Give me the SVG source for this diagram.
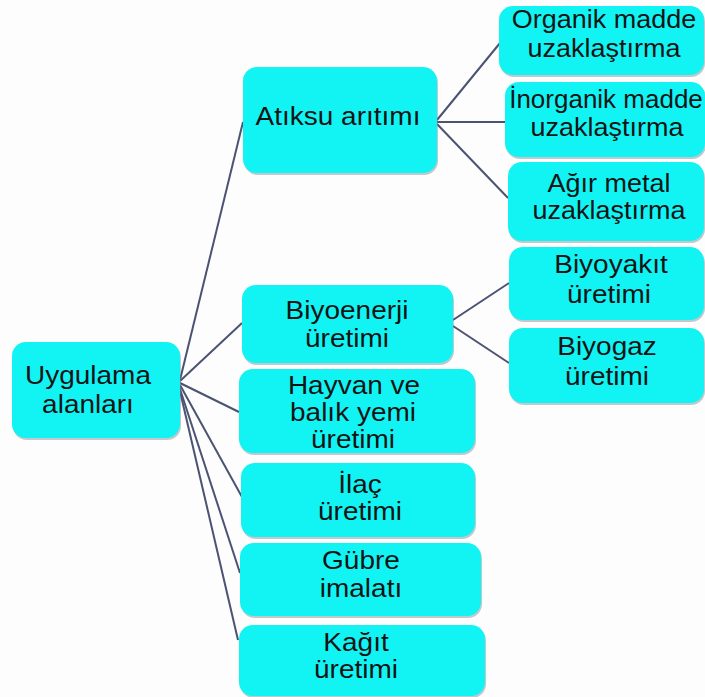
<svg xmlns="http://www.w3.org/2000/svg" width="705" height="697" viewBox="0 0 705 697">
<style>
.box{fill:#12f4f4;}
.sh{fill:#7a8a90;opacity:0.45;}
.t{font-family:"Liberation Sans",Arial,sans-serif;font-size:25px;fill:#141414;text-anchor:middle;}
.c{stroke:#4b5372;stroke-width:2;fill:none;}
</style>
<rect width="705" height="697" fill="#fdfdfd"/>
<g id="connectors">
<line class="c" x1="180" y1="380" x2="243" y2="122"/>
<line class="c" x1="180" y1="381" x2="242" y2="323"/>
<line class="c" x1="180" y1="383" x2="239" y2="412"/>
<line class="c" x1="180" y1="385" x2="242" y2="497"/>
<line class="c" x1="179" y1="386" x2="240" y2="573"/>
<line class="c" x1="179" y1="387" x2="238" y2="640"/>
<line class="c" x1="437" y1="120" x2="500" y2="43"/>
<line class="c" x1="437" y1="122" x2="505" y2="122"/>
<line class="c" x1="437" y1="124" x2="508" y2="198"/>
<line class="c" x1="453" y1="320" x2="509" y2="283"/>
<line class="c" x1="453" y1="326" x2="509" y2="363"/>
</g>
<g id="organik">
<rect class="sh" x="500" y="8" width="205" height="69" rx="14"/>
<rect class="box" x="499" y="6" width="205" height="69" rx="14"/>
<text class="t" transform="translate(604 0) scale(1.08 1)" y="28">Organik madde</text>
<text class="t" transform="translate(604 0) scale(1.08 1)" y="57">uzaklaştırma</text>
</g>
<g id="atiksu">
<rect class="sh" x="244" y="69" width="194" height="106" rx="14"/>
<rect class="box" x="243" y="67" width="194" height="106" rx="14"/>
<text class="t" transform="translate(338 0) scale(1.12 1)" y="125">Atıksu arıtımı</text>
</g>
<g id="inorganik">
<rect class="sh" x="506" y="84" width="200" height="75" rx="14"/>
<rect class="box" x="505" y="82" width="200" height="75" rx="14"/>
<text class="t" transform="translate(606 0) scale(1.04 1)" y="108">İnorganik madde</text>
<text class="t" transform="translate(607 0) scale(1.08 1)" y="136">uzaklaştırma</text>
</g>
<g id="agir">
<rect class="sh" x="509" y="164" width="196" height="79" rx="14"/>
<rect class="box" x="508" y="162" width="196" height="79" rx="14"/>
<text class="t" transform="translate(609 0) scale(1.08 1)" y="192">Ağır metal</text>
<text class="t" transform="translate(609 0) scale(1.08 1)" y="219">uzaklaştırma</text>
</g>
<g id="biyoyakit">
<rect class="sh" x="510" y="249" width="195" height="73" rx="14"/>
<rect class="box" x="509" y="247" width="195" height="73" rx="14"/>
<text class="t" transform="translate(611 0) scale(1.12 1)" y="273">Biyoyakıt</text>
<text class="t" transform="translate(609 0) scale(1.12 1)" y="303">üretimi</text>
</g>
<g id="biyoenerji">
<rect class="sh" x="243" y="287" width="211" height="78" rx="14"/>
<rect class="box" x="242" y="285" width="211" height="78" rx="14"/>
<text class="t" transform="translate(347 0) scale(1.12 1)" y="319">Biyoenerji</text>
<text class="t" transform="translate(347 0) scale(1.12 1)" y="347">üretimi</text>
</g>
<g id="biyogaz">
<rect class="sh" x="510" y="330" width="195" height="75" rx="14"/>
<rect class="box" x="509" y="328" width="195" height="75" rx="14"/>
<text class="t" transform="translate(607 0) scale(1.12 1)" y="355">Biyogaz</text>
<text class="t" transform="translate(607 0) scale(1.12 1)" y="385">üretimi</text>
</g>
<g id="uygulama">
<rect class="sh" x="13" y="344" width="168" height="96" rx="14"/>
<rect class="box" x="12" y="342" width="168" height="96" rx="14"/>
<text class="t" transform="translate(88 0) scale(1.12 1)" y="384">Uygulama</text>
<text class="t" transform="translate(88 0) scale(1.12 1)" y="413">alanları</text>
</g>
<g id="hayvan">
<rect class="sh" x="240" y="371" width="236" height="84" rx="14"/>
<rect class="box" x="239" y="369" width="236" height="84" rx="14"/>
<text class="t" transform="translate(354 0) scale(1.12 1)" y="394">Hayvan ve</text>
<text class="t" transform="translate(353 0) scale(1.12 1)" y="421">balık yemi</text>
<text class="t" transform="translate(353 0) scale(1.12 1)" y="448">üretimi</text>
</g>
<g id="ilac">
<rect class="sh" x="242" y="465" width="234" height="74" rx="14"/>
<rect class="box" x="241" y="463" width="234" height="74" rx="14"/>
<text class="t" transform="translate(360 0) scale(1.12 1)" y="493">İlaç</text>
<text class="t" transform="translate(360 0) scale(1.12 1)" y="520">üretimi</text>
</g>
<g id="gubre">
<rect class="sh" x="241" y="545" width="241" height="73" rx="14"/>
<rect class="box" x="240" y="543" width="241" height="73" rx="14"/>
<text class="t" transform="translate(361 0) scale(1.12 1)" y="569">Gübre</text>
<text class="t" transform="translate(361 0) scale(1.12 1)" y="597">imalatı</text>
</g>
<g id="kagit">
<rect class="sh" x="240" y="627" width="246" height="71" rx="14"/>
<rect class="box" x="239" y="625" width="246" height="71" rx="14"/>
<text class="t" transform="translate(356 0) scale(1.12 1)" y="651">Kağıt</text>
<text class="t" transform="translate(356 0) scale(1.12 1)" y="678">üretimi</text>
</g>
</svg>
